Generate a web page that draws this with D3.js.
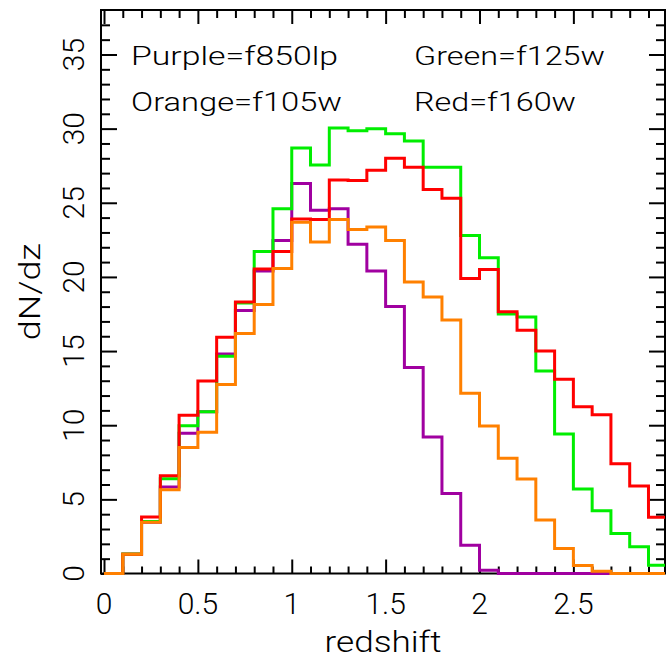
<!DOCTYPE html>
<html><head><meta charset="utf-8">
<script src="https://cdn.jsdelivr.net/npm/d3@7"></script>
<style>
body{margin:0;background:#fff;}
text{font-family:Roboto,'DejaVu Sans',sans-serif;font-weight:300;fill:#000;}
</style>
</head><body>
<svg id="c" width="666" height="661"></svg>
<script>
// ---- data ----
const binStart = [0.0,0.1,0.2,0.3,0.4,0.5,0.6,0.7,0.8,0.9,1.0,1.1,1.2,1.3,1.4,1.5,1.6,1.7,1.8,1.9,2.0,2.1,2.2,2.3,2.4,2.5,2.6,2.7,2.8,2.9];
const binWidth = 0.1;
const purple = [0,1.3,3.45,5.83,9.46,10.9,14.8,17.73,20.4,22.46,26.3,24.5,24.6,22.2,20.4,18.0,13.9,9.2,5.4,1.9,0.22,0,0,0,0,0,0,0,0,0];
const green  = [0,1.32,3.5,6.39,9.97,10.9,14.65,18.24,21.72,24.6,28.7,27.55,30.04,29.86,29.99,29.66,29.16,27.39,27.4,22.8,21.3,17.5,17.3,13.65,9.4,5.7,4.24,2.7,1.8,0.56];
const red    = [0,1.3,3.81,6.59,10.67,12.98,15.94,18.31,20.53,21.72,23.9,23.87,26.54,26.5,27.2,28.0,27.4,25.9,25.3,19.9,20.5,17.65,16.4,15.0,13.1,11.25,10.7,7.4,5.9,3.8];
const orange = [0,1.3,3.45,5.65,8.5,9.53,12.75,16.19,18.14,20.56,23.69,22.35,23.87,23.2,23.36,22.46,19.66,18.65,17.1,12.15,9.95,7.78,6.37,3.6,1.68,0.54,0.16,0,0,0];
const xTickValues = [0,0.5,1,1.5,2,2.5];
const xTickLabels = ["0","0.5","1","1.5","2","2.5"];
const yTickValues = [0,5,10,15,20,25,30,35];
const yTickLabels = ["0","5","10","15","20","25","30","35"];
const legendRows = [
  {text:"Purple=f850lp", col:0, row:0},
  {text:"Green=f125w",   col:1, row:0},
  {text:"Orange=f105w",  col:0, row:1},
  {text:"Red=f160w",     col:1, row:1}
];
const series = [
  {name:"purple", values:purple, color:"#a000a0"},
  {name:"green",  values:green,  color:"#00ee00"},
  {name:"red",    values:red,    color:"#ff0000"},
  {name:"orange", values:orange, color:"#ff8000"}
];

// ---- layout ----
const svg = d3.select("#c");
const L=101, R=665, T=10, B=573.5;
const x = d3.scaleLinear().domain([-0.016, 2.988]).range([L,R]);
const y = d3.scaleLinear().domain([0,38]).range([B,T]);

svg.append("defs").append("clipPath").attr("id","clip")
  .append("rect").attr("x",L).attr("y",T).attr("width",R-L).attr("height",B-T+3);

// axes (ticks inward)
const xMinor = d3.range(0,3.0,0.1).filter(v=>Math.abs(v*2-Math.round(v*2))>1e-6);
const yMinor = d3.range(1,38,1).filter(v=>v%5!==0);
function styleAxis(g){ g.select(".domain").remove(); g.selectAll("line").attr("stroke","#000").attr("stroke-width",2); }
svg.append("g").attr("transform",`translate(0,${B})`).call(d3.axisBottom(x).tickValues(xTickValues).tickSize(-14).tickFormat("")).call(styleAxis);
svg.append("g").attr("transform",`translate(0,${B})`).call(d3.axisBottom(x).tickValues(xMinor).tickSize(-7).tickFormat("")).call(styleAxis);
svg.append("g").attr("transform",`translate(0,${T})`).call(d3.axisTop(x).tickValues(xTickValues).tickSize(-14).tickFormat("")).call(styleAxis);
svg.append("g").attr("transform",`translate(0,${T})`).call(d3.axisTop(x).tickValues(xMinor).tickSize(-8).tickFormat("")).call(styleAxis);
svg.append("g").attr("transform",`translate(${L},0)`).call(d3.axisLeft(y).tickValues(yTickValues).tickSize(-16).tickFormat("")).call(styleAxis);
svg.append("g").attr("transform",`translate(${L},0)`).call(d3.axisLeft(y).tickValues(yMinor).tickSize(-9).tickFormat("")).call(styleAxis);
svg.append("g").attr("transform",`translate(${R},0)`).call(d3.axisRight(y).tickValues(yTickValues).tickSize(-16).tickFormat("")).call(styleAxis);
svg.append("g").attr("transform",`translate(${R},0)`).call(d3.axisRight(y).tickValues(yMinor).tickSize(-9).tickFormat("")).call(styleAxis);
svg.append("rect").attr("x",L).attr("y",T).attr("width",R-L).attr("height",B-T)
  .attr("fill","none").attr("stroke","#000").attr("stroke-width",2);

// histograms (drawn over the frame, like the reference)
const line = d3.line().curve(d3.curveStepAfter).x(d=>x(d[0])).y(d=>y(d[1]));
const gData = svg.append("g").attr("clip-path","url(#clip)");
series.forEach(s=>{
  const pts = binStart.map((b,i)=>[b,s.values[i]]);
  pts.push([binStart[binStart.length-1]+binWidth, s.values[s.values.length-1]]);
  gData.append("path").attr("d",line(pts)).attr("fill","none")
    .attr("stroke",s.color).attr("stroke-width",3).attr("stroke-linejoin","miter");
});

// tick labels
svg.append("g").selectAll("text").data(xTickValues).join("text")
  .attr("x",d=>x(d)).attr("y",613.5).attr("text-anchor","middle")
  .attr("font-size",30).text((d,i)=>xTickLabels[i]);
svg.append("g").selectAll("text").data(yTickValues).join("text")
  .attr("transform",d=>`translate(84,${y(d)}) rotate(-90)`).attr("text-anchor","middle")
  .attr("font-size",30).text((d,i)=>yTickLabels[i]);

// axis titles
svg.append("text").attr("x",(L+R)/2).attr("y",652).attr("text-anchor","middle")
  .attr("font-size",30).attr("textLength",117).attr("lengthAdjust","spacingAndGlyphs").text("redshift");
svg.append("text").attr("transform",`translate(40,${(T+B)/2}) rotate(-90)`).attr("text-anchor","middle")
  .attr("font-size",30).attr("textLength",97).attr("lengthAdjust","spacingAndGlyphs").text("dN/dz");

// legend text
const legendWidths = {"Purple=f850lp":207,"Green=f125w":191,"Orange=f105w":211,"Red=f160w":162};
svg.append("g").selectAll("text").data(legendRows).join("text")
  .attr("x",d=>d.col===0?131:414).attr("y",d=>d.row===0?65:111)
  .attr("font-size",26).attr("textLength",d=>legendWidths[d.text]).attr("lengthAdjust","spacingAndGlyphs")
  .text(d=>d.text);
</script>
</body></html>
